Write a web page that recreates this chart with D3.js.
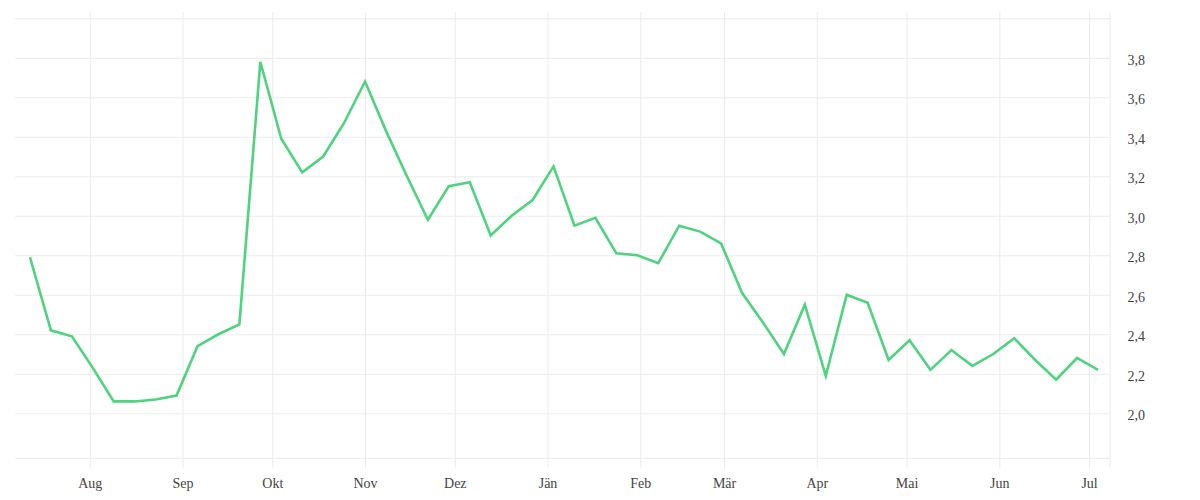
<!DOCTYPE html>
<html>
<head>
<meta charset="utf-8">
<script src="https://cdn.jsdelivr.net/npm/d3@7"></script>
<style>
    body { margin: 0; background: #fff; }
    svg text { font-family: "Liberation Serif", "DejaVu Serif", serif; }
</style>
</head>
<body>
<div id="chart"></div>
<script>
    // weekly values, first week starts 2022-07-12
    const startDate = "2022-07-12";
    const values = [
        2.79, 2.42, 2.39, 2.23, 2.06, 2.06, 2.07, 2.09, 2.34, 2.40,
        2.45, 3.78, 3.39, 3.22, 3.30, 3.47, 3.68, 3.43, 3.20, 2.98,
        3.15, 3.17, 2.90, 3.00, 3.08, 3.25, 2.95, 2.99, 2.81, 2.80,
        2.76, 2.95, 2.92, 2.86, 2.61, 2.46, 2.30, 2.55, 2.19, 2.60,
        2.56, 2.27, 2.37, 2.22, 2.32, 2.24, 2.30, 2.38, 2.27, 2.17,
        2.28, 2.22
    ];
    const monthTicks = ["2022-08-01", "2022-09-01", "2022-10-01", "2022-11-01", "2022-12-01", "2023-01-01",
                        "2023-02-01", "2023-03-01", "2023-04-01", "2023-05-01", "2023-06-01", "2023-07-01"];
    const monthLabels = ["Aug", "Sep", "Okt", "Nov", "Dez", "Jän", "Feb", "Mär", "Apr", "Mai", "Jun", "Jul"];
    const yTicks = [2.0, 2.2, 2.4, 2.6, 2.8, 3.0, 3.2, 3.4, 3.6, 3.8, 4.0];
    const yLabeled = [2.0, 2.2, 2.4, 2.6, 2.8, 3.0, 3.2, 3.4, 3.6, 3.8];

    const width = 1200, height = 500;
    const plot = { left: 15, right: 1110, top: 18.3, bottom: 458.3, gridTop: 12, gridBottom: 468.3 };

    const parse = d3.utcParse("%Y-%m-%d");
    const t0 = parse(startDate);
    const data = values.map((v, i) => ({ date: d3.utcWeek.offset(t0, i), value: v }));

    const svg = d3.select("#chart").append("svg")
        .attr("width", width)
        .attr("height", height)
        .attr("viewBox", `0 0 ${width} ${height}`);

    const x = d3.scaleUtc()
        .domain([parse("2022-07-07"), parse("2023-07-08")])
        .range([plot.left, plot.right]);

    const y = d3.scaleLinear()
        .domain([1.772, 4.0])
        .range([plot.bottom, plot.top]);

    const gridColor = "#ececec";
    const textColor = "#444";

    // vertical month grid + labels
    const xAxis = svg.append("g")
        .attr("transform", `translate(0,${plot.gridBottom})`)
        .call(d3.axisBottom(x)
            .tickValues(monthTicks.map(parse))
            .tickFormat((d, i) => monthLabels[i])
            .tickSize(-(plot.gridBottom - plot.gridTop))
            .tickPadding(10))
        .call(g => g.select(".domain").remove());
    xAxis.selectAll("line").attr("stroke", gridColor);
    xAxis.selectAll("text")
        .attr("fill", textColor)
        .style("font-size", "14px");

    // right edge line
    svg.append("line")
        .attr("x1", plot.right).attr("x2", plot.right)
        .attr("y1", plot.gridTop).attr("y2", plot.gridBottom)
        .attr("stroke", gridColor);

    // horizontal grid + labels on the right
    const yAxis = svg.append("g")
        .attr("transform", `translate(${plot.right},0)`)
        .call(d3.axisRight(y)
            .tickValues(yTicks)
            .tickFormat(d => yLabeled.includes(d) ? d3.format(".1f")(d).replace(".", ",") : "")
            .tickSize(-(plot.right - plot.left))
            .tickPadding(17.5))
        .call(g => g.select(".domain").remove());
    yAxis.selectAll("line").attr("stroke", gridColor);
    yAxis.selectAll("text")
        .attr("fill", textColor)
        .attr("dy", "0.47em")
        .style("font-size", "14px");

    // bottom edge line
    svg.append("line")
        .attr("x1", plot.left).attr("x2", plot.right)
        .attr("y1", y.range()[0]).attr("y2", y.range()[0])
        .attr("stroke", gridColor);

    const line = d3.line()
        .x(d => x(d.date))
        .y(d => y(d.value));

    svg.append("path")
        .datum(data)
        .attr("fill", "none")
        .attr("stroke", "#4fd37f")
        .attr("stroke-width", 2.6)
        .attr("d", line);
</script>
</body>
</html>
